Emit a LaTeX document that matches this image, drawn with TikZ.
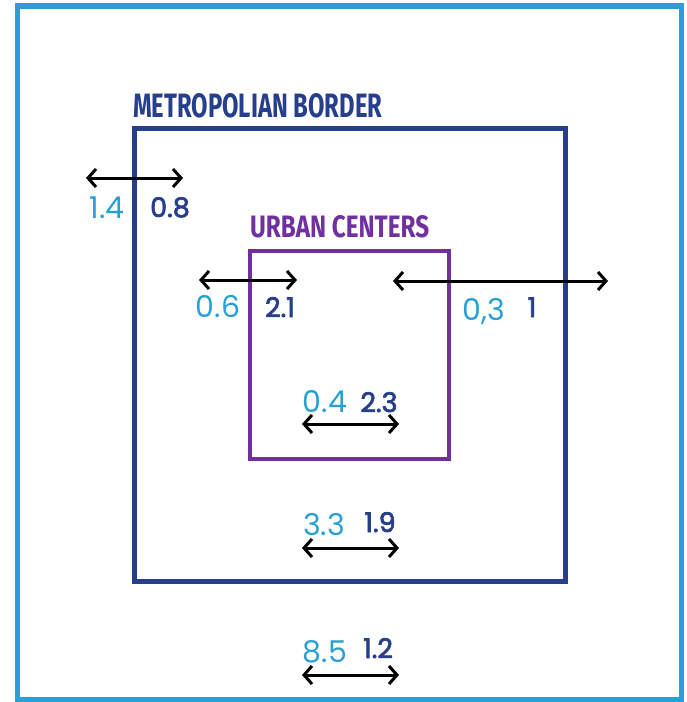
\documentclass[tikz,border=0pt]{standalone}
\usepackage{fontspec}
\setmainfont{Poppins}
\newfontfamily\titlefont{Fira Sans}
\newfontfamily\medfont{Poppins}[FakeBold=2.5]
\usetikzlibrary{arrows.meta}
\definecolor{lightblue}{RGB}{40,160,213}
\definecolor{darkblue}{RGB}{38,62,140}
\definecolor{purp}{RGB}{112,48,160}
\begin{document}
\begin{tikzpicture}[x=1pt,y=-1pt,
  dim/.style={line width=3pt, {Straight Barb[length=8pt,width=18pt]}-{Straight Barb[length=8pt,width=18pt]}},
  lnum/.style={text=lightblue, font=\fontsize{30}{30}\selectfont, inner sep=0pt, anchor=base},
  dnum/.style={text=darkblue, font=\medfont\fontsize{27}{27}\selectfont, inner sep=0pt, anchor=base},
  region/.style={draw, inner sep=0pt, anchor=center},
  title/.style={inner sep=0pt, anchor=base west, font=\titlefont\bfseries}]
\useasboundingbox (0,0) rectangle (686,702);
% outer frame
\node[region, draw=lightblue, line width=5.5pt, minimum width=664pt, minimum height=693.5pt] (frame) at (349.5,352.75) {};
% metropolitan border
\node[region, draw=darkblue, line width=5pt, minimum width=431pt, minimum height=453pt] (metro) at (349.5,354.5) {};
% urban centers
\node[region, draw=purp, line width=4pt, minimum width=199pt, minimum height=208.5pt] (urban) at (349.5,354.75) {};
% titles
\node[title, text=darkblue] (metrotitle) at (133,117) {\resizebox{249pt}{24pt}{METROPOLIAN BORDER}};
\node[title, text=purp] (urbantitle) at (250,237) {\resizebox{179pt}{22pt}{URBAN CENTERS}};
% arrows
\coordinate (a1l) at (86,178);  \coordinate (a1r) at (183,178);
\coordinate (a2l) at (199,280); \coordinate (a2r) at (297,280);
\coordinate (a3l) at (393,281); \coordinate (a3r) at (608,281);
\coordinate (a4l) at (302,424); \coordinate (a4r) at (399,424);
\coordinate (a5l) at (302,548); \coordinate (a5r) at (399,548);
\coordinate (a6l) at (302,675); \coordinate (a6r) at (399,675);
\draw[dim] (a1l) -- (a1r);
\draw[dim] (a2l) -- (a2r);
\draw[dim] (a3l) -- (a3r);
\draw[dim] (a4l) -- (a4r);
\draw[dim] (a5l) -- (a5r);
\draw[dim] (a6l) -- (a6r);
% numbers
\node[lnum] (n1a) at (107,218) {1.4};
\node[dnum] (n1b) at (170,217) {0.8};
\node[lnum] (n2a) at (218,317) {0.6};
\node[dnum] (n2b) at (280,317) {2.1};
\node[lnum] (n3a) at (484,320) {0,3};
\node[dnum] (n3b) at (532,317) {1};
\node[lnum] (n4a) at (325,412) {0.4};
\node[dnum] (n4b) at (379,412) {2.3};
\node[lnum] (n5a) at (324,535) {3.3};
\node[dnum] (n5b) at (380,532) {1.9};
\node[lnum] (n6a) at (325,662) {8.5};
\node[dnum] (n6b) at (378,658) {1.2};
\end{tikzpicture}
\end{document}
